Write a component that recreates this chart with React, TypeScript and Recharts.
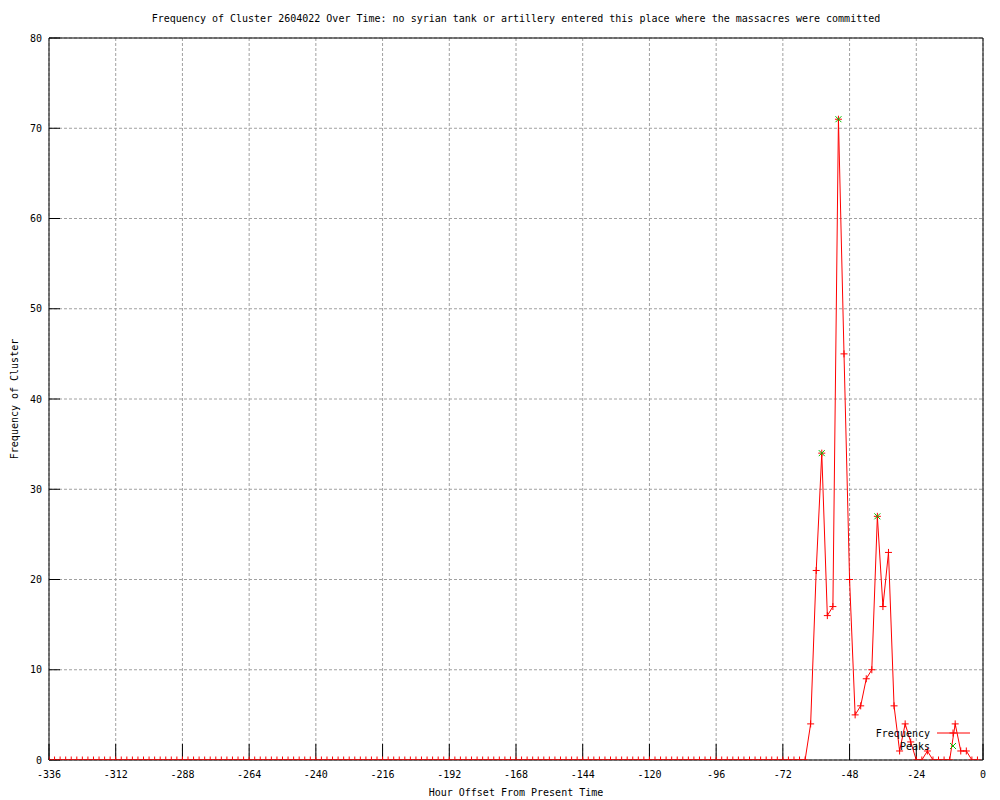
import {
  CartesianGrid,
  Legend,
  Line,
  LineChart,
  XAxis,
  YAxis,
} from "recharts";

const title =
  "Frequency of Cluster 2604022 Over Time: no syrian tank or artillery entered this place where the massacres were committed";

// x positions: one sample every 2 hours from -336 to -2
const hours: number[] = Array.from({ length: 168 }, (_, i) => -336 + 2 * i);

// one row per 24 hours (12 samples)
const frequency: number[] = [
  0, 0, 0, 0, 0, 0, 0, 0, 0, 0, 0, 0,
  0, 0, 0, 0, 0, 0, 0, 0, 0, 0, 0, 0,
  0, 0, 0, 0, 0, 0, 0, 0, 0, 0, 0, 0,
  0, 0, 0, 0, 0, 0, 0, 0, 0, 0, 0, 0,
  0, 0, 0, 0, 0, 0, 0, 0, 0, 0, 0, 0,
  0, 0, 0, 0, 0, 0, 0, 0, 0, 0, 0, 0,
  0, 0, 0, 0, 0, 0, 0, 0, 0, 0, 0, 0,
  0, 0, 0, 0, 0, 0, 0, 0, 0, 0, 0, 0,
  0, 0, 0, 0, 0, 0, 0, 0, 0, 0, 0, 0,
  0, 0, 0, 0, 0, 0, 0, 0, 0, 0, 0, 0,
  0, 0, 0, 0, 0, 0, 0, 0, 0, 0, 0, 0,
  0, 0, 0, 0, 0, 4, 21, 34, 16, 17, 71, 45,
  20, 5, 6, 9, 10, 27, 17, 23, 6, 1, 4, 2,
  0, 0, 1, 0, 0, 0, 0, 4, 1, 1, 0, 0,
];

const peakHours = [-58, -52, -38];
const peakValues = [34, 71, 27];

const xTicks = [-336, -312, -288, -264, -240, -216, -192, -168, -144, -120, -96, -72, -48, -24, 0];
const yTicks = [0, 10, 20, 30, 40, 50, 60, 70, 80];

const rows = hours.map((h, i) => ({ hour: h, freq: frequency[i] }));
const peakRows = peakHours.map((h, i) => ({ hour: h, peak: peakValues[i] }));

const RED = "#ff0000";
const GREEN = "#00c000";
const FONT = "'DejaVu Sans Mono', 'Liberation Mono', monospace";

const PlusDot = (props: any) => {
  const { cx, cy, index } = props;
  if (cx == null || cy == null) return <g key={`f-${index}`} />;
  return (
    <path
      key={`f-${index}`}
      d={`M${cx - 3.5},${cy}H${cx + 3.5}M${cx},${cy - 3.5}V${cy + 3.5}`}
      stroke={RED}
      strokeWidth={1}
      fill="none"
    />
  );
};

const CrossDot = (props: any) => {
  const { cx, cy, index } = props;
  if (cx == null || cy == null) return <g key={`p-${index}`} />;
  return (
    <path
      key={`p-${index}`}
      d={`M${cx - 3},${cy - 3}L${cx + 3},${cy + 3}M${cx - 3},${cy + 3}L${cx + 3},${cy - 3}`}
      stroke={GREEN}
      strokeWidth={1}
      fill="none"
    />
  );
};

const KeyBox = () => (
  <svg width={130} height={34} style={{ fontFamily: FONT, fontSize: 10, overflow: "visible" }}>
    <text x={80} y={13} textAnchor="end" dominantBaseline="central" fill="#000">
      Frequency
    </text>
    <line x1={87} y1={13} x2={120} y2={13} stroke={RED} />
    <path d="M99.5,13H106.5M103,9.5V16.5" stroke={RED} fill="none" />
    <text x={80} y={26} textAnchor="end" dominantBaseline="central" fill="#000">
      Peaks
    </text>
    <path d="M100,23L106,29M100,29L106,23" stroke={GREEN} fill="none" />
  </svg>
);

const tickStyle = { fontSize: 10, fill: "#000", fontFamily: FONT };

export default function App() {
  return (
    <div style={{ position: "absolute", left: 0, top: 0, background: "#fff", fontFamily: FONT }}>
      <LineChart
        width={1000}
        height={800}
        data={rows}
        margin={{ top: 37, right: 16, bottom: 0, left: 0 }}
      >
        <CartesianGrid stroke="#a0a0a0" strokeDasharray="3 2" />
        <XAxis
          dataKey="hour"
          type="number"
          domain={[-336, 0]}
          ticks={xTicks}
          allowDataOverflow
          height={40}
          tickSize={-16}
          tickMargin={27}
          tick={tickStyle}
          stroke="#000"
          label={{
            value: "Hour Offset From Present Time",
            position: "insideBottom",
            offset: 4,
            fontSize: 10,
            fill: "#000",
            fontFamily: FONT,
          }}
        />
        <XAxis
          xAxisId="top"
          orientation="top"
          dataKey="hour"
          type="number"
          domain={[-336, 0]}
          ticks={xTicks}
          allowDataOverflow
          height={1}
          tickSize={-16}
          tick={false}
          stroke="#000"
          label={{
            value: title,
            position: "top",
            offset: 15,
            fontSize: 10,
            fill: "#000",
            fontFamily: FONT,
          }}
        />
        <YAxis
          type="number"
          domain={[0, 80]}
          ticks={yTicks}
          allowDataOverflow
          width={49}
          tickSize={-11}
          tickMargin={18}
          tick={tickStyle}
          stroke="#000"
          label={{
            value: "Frequency of Cluster",
            angle: -90,
            position: "insideLeft",
            offset: 14,
            fontSize: 10,
            fill: "#000",
            fontFamily: FONT,
            style: { textAnchor: "middle" },
          }}
        />
        <YAxis
          yAxisId="right"
          orientation="right"
          type="number"
          domain={[0, 80]}
          ticks={yTicks}
          allowDataOverflow
          width={1}
          tickSize={-17}
          tick={false}
          stroke="#000"
        />
        <Line
          dataKey="freq"
          name="Frequency"
          type="linear"
          stroke={RED}
          strokeWidth={1}
          dot={PlusDot}
          activeDot={false}
          isAnimationActive={false}
        />
        <Line
          data={peakRows}
          xAxisId="top"
          yAxisId="right"
          dataKey="peak"
          name="Peaks"
          type="linear"
          stroke="none"
          dot={CrossDot}
          activeDot={false}
          isAnimationActive={false}
        />
        <Legend
          layout="horizontal"
          verticalAlign="middle"
          align="center"
          wrapperStyle={{ left: 850, top: 720, width: 130, height: 34 }}
          content={() => <KeyBox />}
        />
      </LineChart>
    </div>
  );
}
